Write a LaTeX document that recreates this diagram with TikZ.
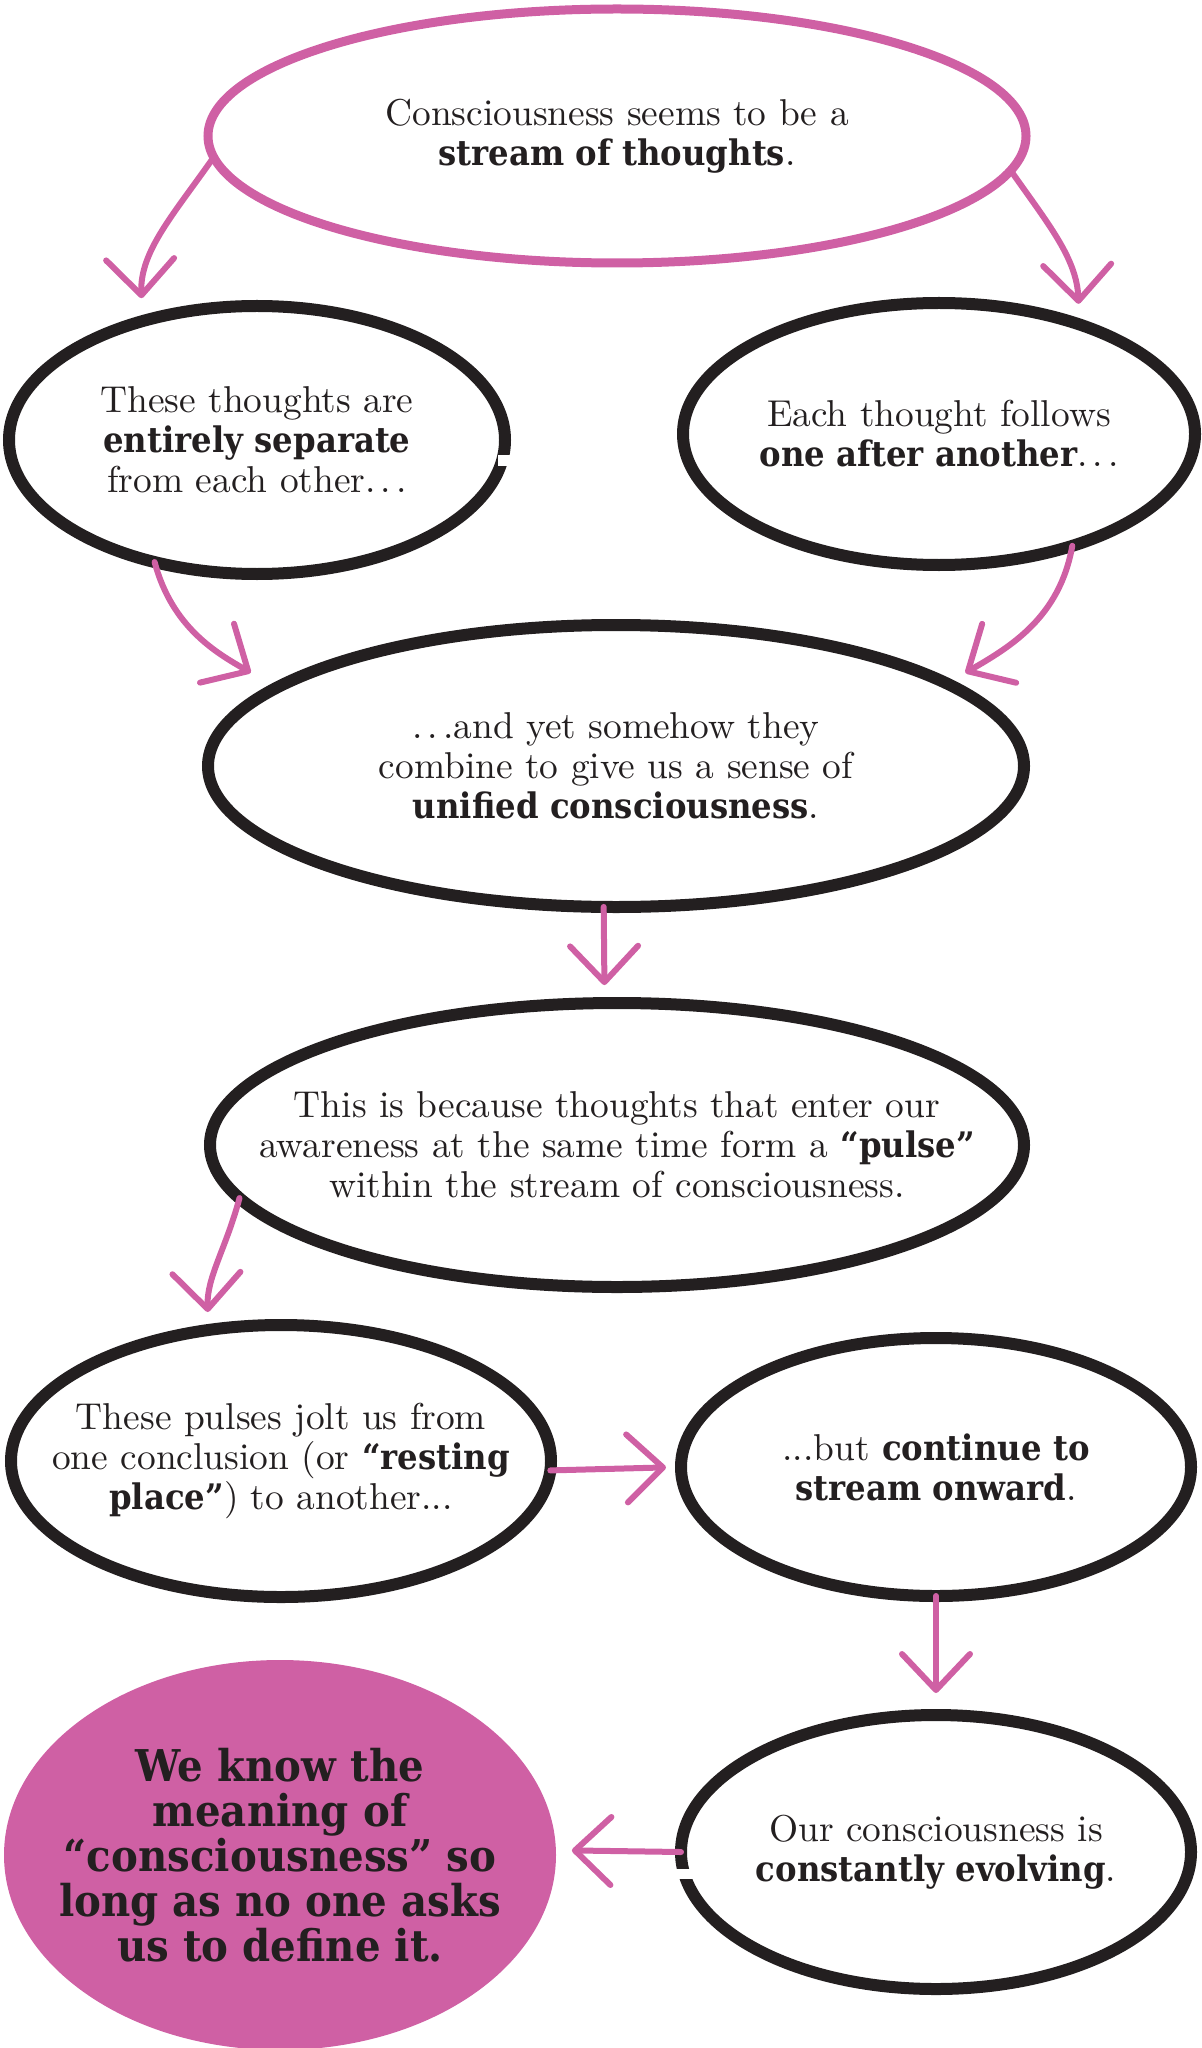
\documentclass[tikz,border=0pt]{standalone}
\usepackage{fontspec}
\setmainfont{lmroman10-regular.otf}
\newfontfamily\slab{DejaVu Serif}[Scale=0.94,FakeStretch=0.92]
\usetikzlibrary{shapes.geometric,arrows.meta}
\definecolor{pinkc}{RGB}{207,96,164}
\definecolor{ink}{RGB}{35,31,32}
\newcommand\B[1]{{\slab\bfseries #1}}
\newcommand\sdots{.\kern2.5pt.\kern2.5pt.}
\begin{document}
\begin{tikzpicture}[x=0.5pt,y=-0.5pt,
  bub/.style={ellipse, draw=ink, line width=6pt, inner sep=0pt, outer sep=0pt},
  pbub/.style={ellipse, draw=pinkc, line width=4.5pt, inner sep=0pt, outer sep=0pt},
  txt/.style={align=center, text=ink, inner sep=0pt, font=\fontsize{18.7}{20}\selectfont},
  arr/.style={draw=pinkc, line width=3pt, line cap=round,
    -{Straight Barb[length=18pt,width=34pt,round]}},
]
\useasboundingbox (0,0) rectangle (1201,2048);
% bubbles
\node[pbub, minimum width=409pt, minimum height=127pt] (top) at (617,136) {};
\node[bub, minimum width=248pt, minimum height=134pt] (left) at (257,440) {};
\node[bub, minimum width=256pt, minimum height=131pt] (right) at (939,434) {};
\node[bub, minimum width=408pt, minimum height=141pt] (mid) at (616,766) {};
\node[bub, minimum width=407pt, minimum height=142pt] (pulse) at (617,1145) {};
\node[bub, minimum width=270pt, minimum height=136pt] (lowL) at (281,1461) {};
\node[bub, minimum width=255pt, minimum height=129pt] (lowR) at (936,1467) {};
\node[bub, minimum width=255pt, minimum height=137pt] (botR) at (936,1852) {};
\node[ellipse, fill=pinkc, inner sep=0pt, outer sep=0pt, minimum width=276pt, minimum height=195pt] (pink) at (280,1855) {};
% gaps in the hand-drawn strokes
\fill[white] (498,455) rectangle (522,466);
\fill[white] (668,1869) rectangle (694,1879);
% texts
\node[txt] (tTop) at (top) {Consciousness seems to be a\\ \B{stream of thoughts}.};
\node[txt] (tLeft) at (left) {These thoughts are\\ \B{entirely separate}\\ from each other\sdots};
\node[txt] (tRight) at (right) {Each thought follows\\ \B{one after another}\sdots};
\node[txt] (tMid) at (mid) {\sdots and yet somehow they\\ combine to give us a sense of\\ \B{unified consciousness}.};
\node[txt] (tPulse) at (pulse) {This is because thoughts that enter our\\ awareness at the same time form a \B{“pulse”}\\ within the stream of consciousness.};
\node[txt] (tLowL) at (lowL) {These pulses jolt us from\\ one conclusion (or \B{“resting}\\ \B{place”}) to another...};
\node[txt] (tLowR) at (lowR) {...but \B{continue to}\\ \B{stream onward}.};
\node[txt] (tBotR) at (botR) {Our consciousness is\\ \B{constantly evolving}.};
\node[txt, font={\fontsize{23.3}{22.5}\selectfont\slab\bfseries}] (tPink) at (pink) {We know the\\ meaning of\\ “consciousness” so\\ long as no one asks\\ us to define it.};
% connectors
\draw[arr, shorten >=11.5pt] (top.183) to[out=235,in=92] (left.134);
\draw[arr, shorten >=10.3pt] (top.-5) to[out=-55,in=92] (right.38);
\draw[arr, shorten >=15pt] (left.230) to[out=-75,in=150] (mid.167);
\draw[arr, shorten >=10.7pt] (right.-40) to[out=-100,in=30] (mid.14);
\draw[arr, shorten >=9pt] (mid.265) -- (pulse.95);
\draw[arr, shorten >=9pt] (pulse.188) to[out=-105,in=92] (lowL.119);
\draw[arr, shorten >=7.5pt] (lowL.-2) -- (lowR.180);
\draw[arr, shorten >=11pt] (lowR.270) -- (botR.90);
\draw[arr, shorten >=8pt] (botR.180) -- (pink.1);
\end{tikzpicture}
\end{document}
